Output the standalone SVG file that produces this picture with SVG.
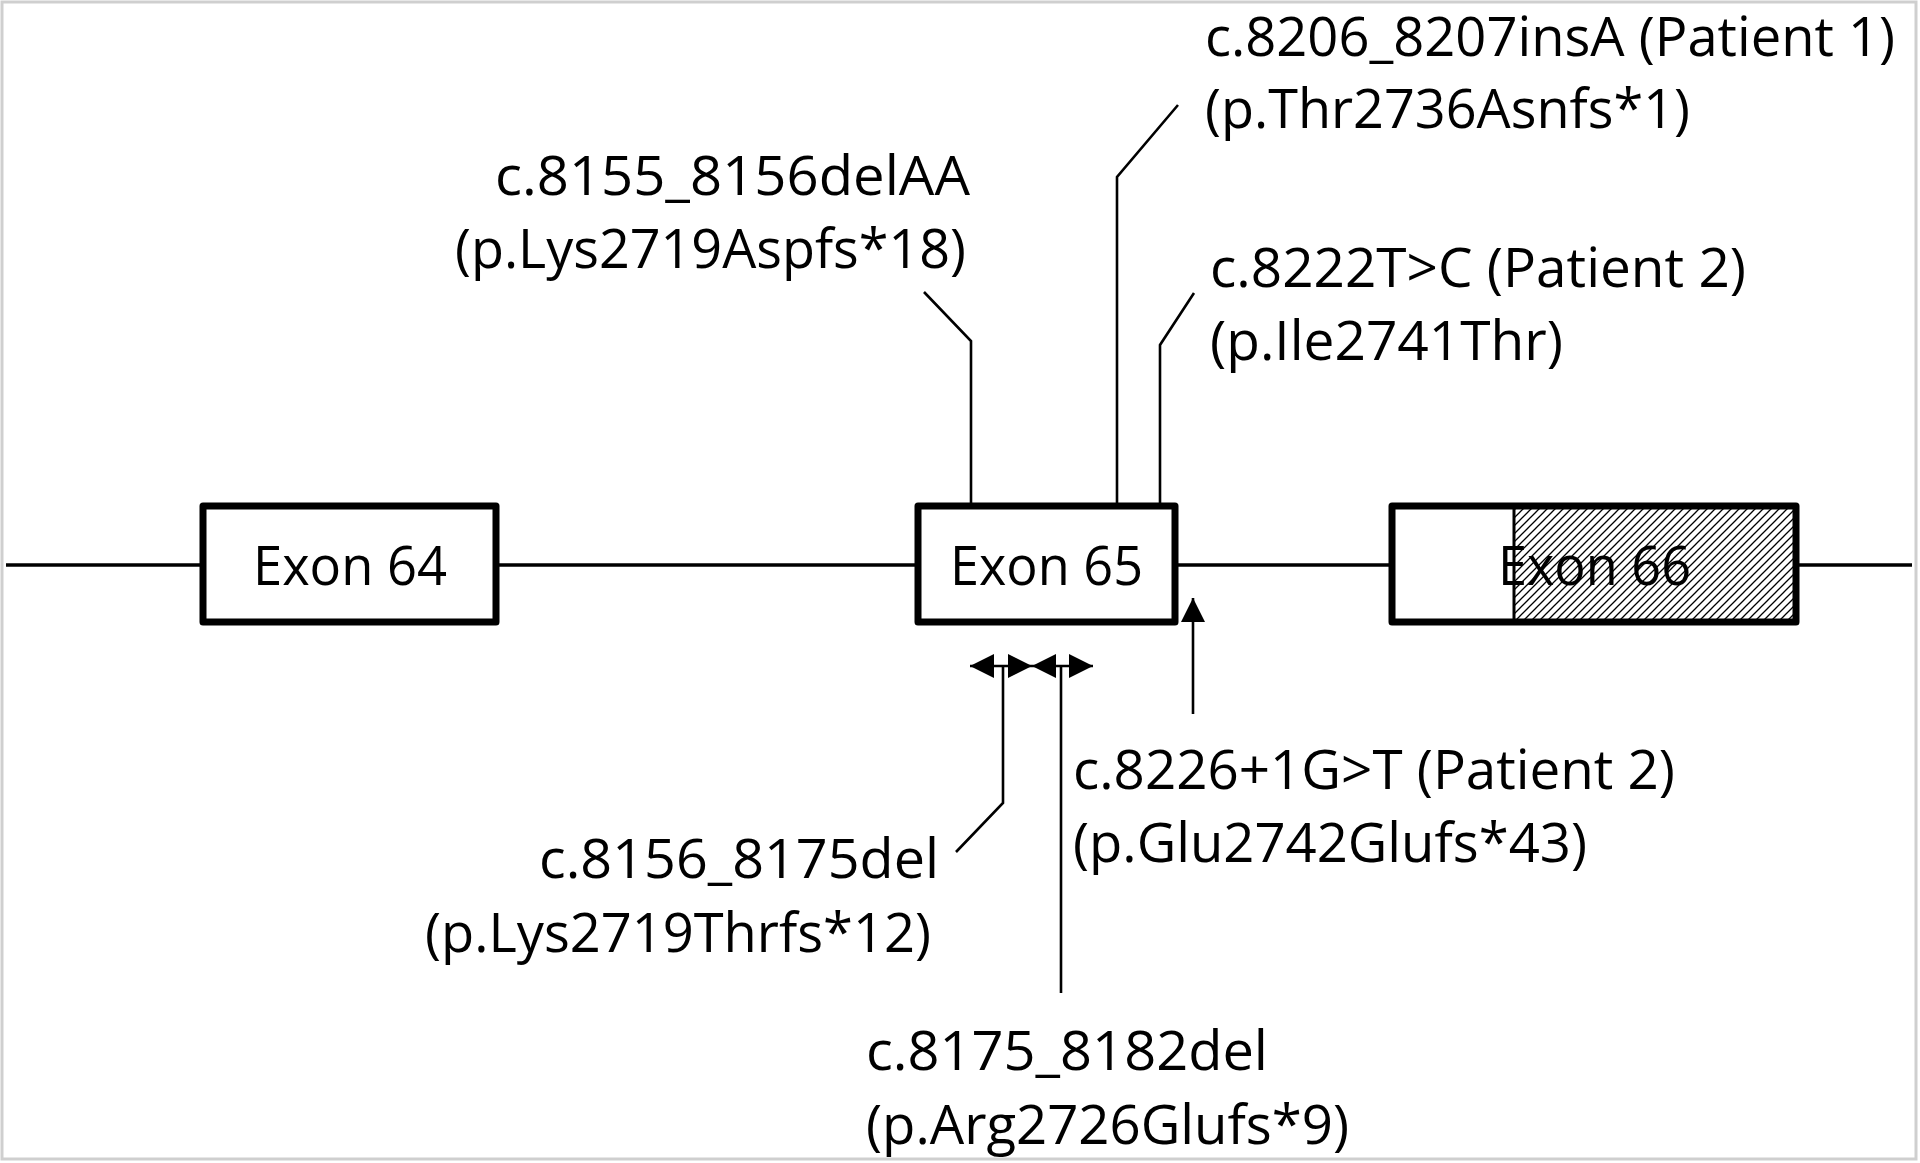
<svg xmlns="http://www.w3.org/2000/svg" width="1920" height="1163" viewBox="0 0 1920 1163">
<style>
  .lbl { font-family: "Open Sans", "Noto Sans", "Liberation Sans", sans-serif; font-size: 55px; fill: #000; }
  .box { fill: #fff; stroke: #000; stroke-width: 7; stroke-linejoin: round; }
  .outline { fill: none; stroke: #000; stroke-width: 7; stroke-linejoin: round; }
  .lead { fill: none; stroke: #000; stroke-width: 2.6; }
  .bb { fill: none; stroke: #000; stroke-width: 3.5; }
</style>
<defs>
  <pattern id="hatch" patternUnits="userSpaceOnUse" width="8" height="8">
    <path d="M-2,2 L2,-2 M0,8 L8,0 M6,10 L10,6" stroke="#000" stroke-width="1.3"/>
  </pattern>
  <marker id="ah" viewBox="0 0 24 24" refX="24" refY="12" markerWidth="24" markerHeight="24" markerUnits="userSpaceOnUse" orient="auto-start-reverse">
    <path d="M0,0 L24,12 L0,24 Z" fill="#000"/>
  </marker>
</defs>
<rect x="2" y="2" width="1914" height="1157" fill="#fff" stroke="#cfcfcf" stroke-width="3"/>

<g id="connectors">
  <line class="bb" x1="6" y1="565" x2="1912" y2="565"/>
  <polyline class="lead" points="924,292 971,341 971,503"/>
  <polyline class="lead" points="1178,105 1117,177 1117,503"/>
  <polyline class="lead" points="1194,293 1160,345 1160,503"/>
  <polyline class="lead" points="956,852 1003,803 1003,666"/>
  <line class="lead" x1="1061" y1="666" x2="1061" y2="993"/>
  <line class="lead" x1="1193" y1="714" x2="1193" y2="598" marker-end="url(#ah)"/>
  <line class="lead" x1="970" y1="666" x2="1032" y2="666" marker-start="url(#ah)" marker-end="url(#ah)"/>
  <line class="lead" x1="1032" y1="666" x2="1093" y2="666" marker-start="url(#ah)" marker-end="url(#ah)"/>
</g>

<g id="exon64">
  <rect class="box" x="203" y="506" width="293" height="116"/>
  <text class="lbl" x="253" y="585" textLength="194" lengthAdjust="spacingAndGlyphs">Exon 64</text>
</g>
<g id="exon65">
  <rect class="box" x="918" y="506" width="257" height="116"/>
  <text class="lbl" x="950" y="585" textLength="193" lengthAdjust="spacingAndGlyphs">Exon 65</text>
</g>
<g id="exon66">
  <rect x="1392" y="506" width="404" height="116" fill="#fff"/>
  <rect x="1514" y="506" width="282" height="116" fill="url(#hatch)"/>
  <line x1="1514" y1="506" x2="1514" y2="622" stroke="#000" stroke-width="3"/>
  <text class="lbl" x="1498" y="585" textLength="193" lengthAdjust="spacingAndGlyphs">Exon 66</text>
  <rect class="outline" x="1392" y="506" width="404" height="116"/>
</g>

<g id="var-c8155">
  <text class="lbl" x="495" y="195" textLength="475" lengthAdjust="spacingAndGlyphs">c.8155_8156delAA</text>
  <text class="lbl" x="455" y="268" textLength="511" lengthAdjust="spacingAndGlyphs">(p.Lys2719Aspfs*18)</text>
</g>
<g id="var-c8206">
  <text class="lbl" x="1205" y="56" textLength="690" lengthAdjust="spacingAndGlyphs">c.8206_8207insA (Patient 1)</text>
  <text class="lbl" x="1205" y="128" textLength="485" lengthAdjust="spacingAndGlyphs">(p.Thr2736Asnfs*1)</text>
</g>
<g id="var-c8222">
  <text class="lbl" x="1210" y="287" textLength="536" lengthAdjust="spacingAndGlyphs">c.8222T&gt;C (Patient 2)</text>
  <text class="lbl" x="1210" y="360" textLength="353" lengthAdjust="spacingAndGlyphs">(p.Ile2741Thr)</text>
</g>
<g id="var-c8226">
  <text class="lbl" x="1073" y="789" textLength="602" lengthAdjust="spacingAndGlyphs">c.8226+1G&gt;T (Patient 2)</text>
  <text class="lbl" x="1073" y="862" textLength="514" lengthAdjust="spacingAndGlyphs">(p.Glu2742Glufs*43)</text>
</g>
<g id="var-c8156">
  <text class="lbl" x="539" y="878" textLength="400" lengthAdjust="spacingAndGlyphs">c.8156_8175del</text>
  <text class="lbl" x="425" y="952" textLength="506" lengthAdjust="spacingAndGlyphs">(p.Lys2719Thrfs*12)</text>
</g>
<g id="var-c8175">
  <text class="lbl" x="866" y="1070" textLength="402" lengthAdjust="spacingAndGlyphs">c.8175_8182del</text>
  <text class="lbl" x="866" y="1144" textLength="483" lengthAdjust="spacingAndGlyphs">(p.Arg2726Glufs*9)</text>
</g>
</svg>
